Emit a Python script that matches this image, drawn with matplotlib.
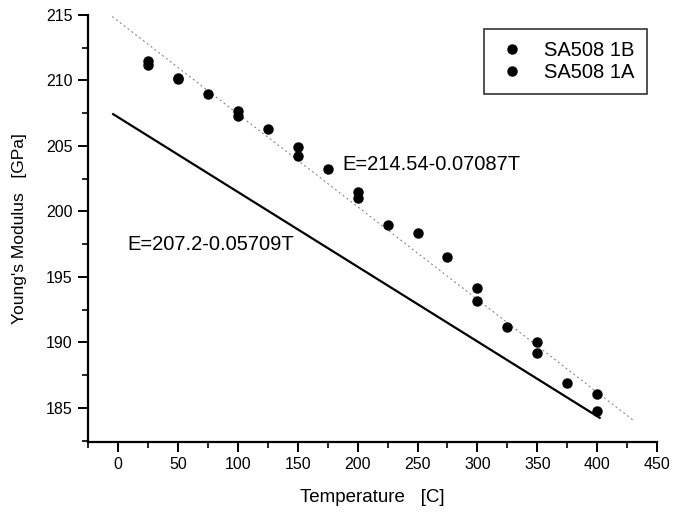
import numpy as np
import matplotlib.pyplot as plt
from matplotlib.ticker import MultipleLocator

# Measured Young's modulus vs temperature
temp_1a = [25, 50, 75, 100, 125, 150, 175, 200, 225, 250, 275, 300, 325, 350, 375, 400]
modulus_1a = [211.45, 210.2, 208.97, 207.65, 206.27, 204.95, 203.24, 201.5,
              198.97, 198.33, 196.55, 194.14, 191.21, 190.06, 186.93, 186.05]
temp_1b = [25, 50, 100, 150, 200, 300, 350, 400]
modulus_1b = [211.18, 210.1, 207.3, 204.24, 201.0, 193.19, 189.22, 184.77]

# Linear fits E = a - b*T
fit_upper = (214.54, 0.07087)
fit_lower = (207.2, 0.05709)
upper_range = [-8, 430]
lower_range = [-4, 402]

plt.rcParams['font.family'] = ['Liberation Sans', 'DejaVu Sans']

fig = plt.figure(figsize=(6.74, 5.13), dpi=100)
ax = fig.add_axes([0.1306, 0.1384, 0.8444, 0.8324])

t_up = np.array(upper_range)
ax.plot(t_up, fit_upper[0] - fit_upper[1] * t_up, color='#777777',
        linestyle=(0, (2, 3)), linewidth=0.7, zorder=1)
t_lo = np.array(lower_range)
ax.plot(t_lo, fit_lower[0] - fit_lower[1] * t_lo, color='black',
        linewidth=1.6, zorder=2)

ax.plot(temp_1b, modulus_1b, 'o', color='black', markersize=6.5,
        label='SA508 1B', zorder=3)
ax.plot(temp_1a, modulus_1a, 'o', color='black', markersize=6.5,
        label='SA508 1A', zorder=3)

ax.text(187, 203.55, 'E=214.54-0.07087T', fontsize=14.5, va='center', ha='left')
ax.text(8, 197.44, 'E=207.2-0.05709T', fontsize=14.5, va='center', ha='left')

ax.set_xlim(-25, 450)
ax.set_ylim(182.4, 215)
ax.xaxis.set_major_locator(MultipleLocator(50))
ax.xaxis.set_minor_locator(MultipleLocator(25))
ax.yaxis.set_major_locator(MultipleLocator(5))
ax.yaxis.set_minor_locator(MultipleLocator(2.5))

for side in ['top', 'right']:
    ax.spines[side].set_visible(False)
for side in ['left', 'bottom']:
    ax.spines[side].set_linewidth(1.6)

ax.tick_params(which='major', direction='out', length=7, width=1.4,
               labelsize=11.5, pad=4)
ax.tick_params(which='minor', direction='out', length=4, width=1.2)

ax.set_xlabel('Temperature   [C]', fontsize=13.5, labelpad=12)
ax.set_ylabel("Young's Modulus   [GPa]", fontsize=12.5, labelpad=14)

leg = ax.legend(loc='upper right', bbox_to_anchor=(0.982, 0.967), fontsize=14.5,
                frameon=True, fancybox=False, edgecolor='black',
                handletextpad=0.8, borderpad=0.6, labelspacing=0.15,
                handlelength=1.6, borderaxespad=0)
leg.get_frame().set_linewidth(1.2)

fig.savefig('out.png', dpi=100)
